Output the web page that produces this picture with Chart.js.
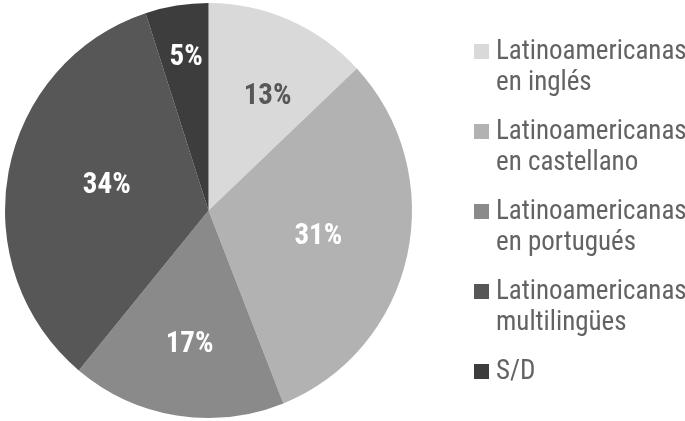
<!DOCTYPE html>
<html>
<head>
<meta charset="utf-8">
<script src="https://cdn.jsdelivr.net/npm/chart.js@4.4.1/dist/chart.umd.min.js"></script>
<style>
html,body{margin:0;padding:0;background:#fff;}
#wrap{width:685px;height:421px;position:relative;}
</style>
</head>
<body>
<div id="wrap"><canvas id="c" width="685" height="421"></canvas></div>
<script>
const categories = [
  ["Latinoamericanas", "en inglés"],
  ["Latinoamericanas", "en castellano"],
  ["Latinoamericanas", "en portugués"],
  ["Latinoamericanas", "multilingües"],
  ["S/D"]
];
const values = [13, 31, 17, 34, 5];
const valueLabels = ["13%", "31%", "17%", "34%", "5%"];

const colors = ["#d9d9d9", "#b2b2b2", "#8a8a8a", "#575757", "#3d3d3d"];
const labelColors = ["#575757", "#ffffff", "#ffffff", "#ffffff", "#ffffff"];
// label placement style: radial fraction and angular nudge (degrees)
const labelRadiusFrac = [0.629, 0.541, 0.640, 0.508, 0.757];
const labelAngleNudge = [3.5, -0.6, -0.8, 4.4, 0.8];
const FONT_FAMILY = "'Roboto Condensed', 'Roboto', sans-serif";
const X_SQUASH = 203.5 / 207.5;

const pieStyle = {
  id: 'pieStyle',
  beforeDatasetsDraw(chart) {
    const ctx = chart.ctx;
    const a = chart.chartArea;
    const cx = (a.left + a.right) / 2;
    ctx.save();
    ctx.translate(cx, 0);
    ctx.scale(X_SQUASH, 1);
    ctx.translate(-cx, 0);
  },
  afterDatasetsDraw(chart) {
    const ctx = chart.ctx;
    ctx.restore();
    const meta = chart.getDatasetMeta(0);
    ctx.save();
    ctx.font = "bold 29px " + FONT_FAMILY;
    ctx.textAlign = 'center';
    ctx.textBaseline = 'alphabetic';
    meta.data.forEach((arc, i) => {
      const p = arc.getProps(['x','y','startAngle','endAngle','outerRadius'], true);
      const mid = (p.startAngle + p.endAngle) / 2 + labelAngleNudge[i] * Math.PI / 180;
      const r = p.outerRadius * labelRadiusFrac[i];
      ctx.fillStyle = labelColors[i];
      ctx.fillText(valueLabels[i], p.x + Math.cos(mid) * r, p.y + Math.sin(mid) * r + 10.3);
    });
    ctx.restore();
  }
};

const sideLegend = {
  id: 'sideLegend',
  afterDraw(chart) {
    const ctx = chart.ctx;
    ctx.save();
    ctx.font = "27px " + FONT_FAMILY;
    ctx.textAlign = 'left';
    ctx.textBaseline = 'alphabetic';
    const x0 = 474, box = 15, textX = 496;
    let y = 59;
    categories.forEach((lines, i) => {
      ctx.fillStyle = colors[i];
      ctx.fillRect(x0, y - box, box, box);
      ctx.fillStyle = '#636363';
      lines.forEach((t, j) => ctx.fillText(t, textX, y + j * 31));
      y += 80;
    });
    ctx.restore();
  }
};

new Chart(document.getElementById('c'), {
  type: 'pie',
  data: {
    labels: categories.map(l => l.join(' ')),
    datasets: [{
      data: values,
      backgroundColor: colors,
      borderWidth: 0
    }]
  },
  options: {
    responsive: false,
    animation: false,
    layout: { padding: { left: 1, right: 269, top: 3, bottom: 3 } },
    plugins: {
      legend: { display: false },
      tooltip: { enabled: false }
    }
  },
  plugins: [pieStyle, sideLegend]
});
</script>
</body>
</html>
